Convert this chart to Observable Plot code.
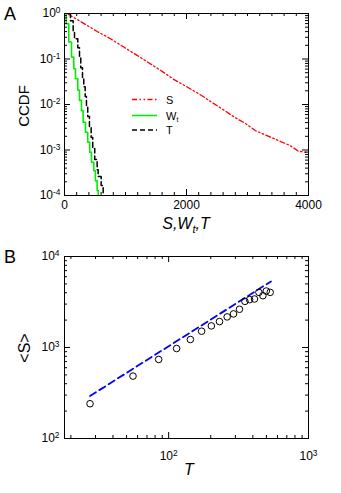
<!DOCTYPE html>
<html><head><meta charset="utf-8">
<script src="https://cdn.jsdelivr.net/npm/d3@7"></script>
<script src="https://cdn.jsdelivr.net/npm/@observablehq/plot@0.6"></script>
<style>
html,body{margin:0;padding:0;background:#fff;}
#wrap{position:relative;width:341px;height:493px;overflow:hidden;font-family:"Liberation Sans",Arial,Helvetica,sans-serif;}
#pa{position:absolute;left:0;top:0;}
#pb{position:absolute;left:0;top:245px;}
#ov{position:absolute;left:0;top:0;pointer-events:none;}
</style></head><body>
<div id="wrap"><div id="pa"></div><div id="pb"></div>
<svg id="ov" width="341" height="493" font-family="Liberation Sans, Arial, Helvetica, sans-serif">
 <text x="4" y="20" font-size="18">A</text>
 <text x="4" y="263" font-size="18">B</text>
 <text transform="translate(23,106) rotate(-90)" text-anchor="middle" dominant-baseline="central" font-size="15">CCDF</text>
 <text transform="translate(24,348) rotate(-90)" text-anchor="middle" dominant-baseline="central" font-size="16">&lt;S&gt;</text>
 <text x="186" y="229" text-anchor="middle" font-size="16" font-style="italic">S,W<tspan font-size="11" dy="4">t</tspan><tspan dy="-4">,T</tspan></text>
 <text x="189" y="475" text-anchor="middle" font-size="16" font-style="italic">T</text>
 <g id="legend" font-size="11">
  <line x1="132" x2="157" y1="99.5" y2="99.5" stroke="#ff0000" stroke-width="1.3" stroke-dasharray="5,2.5,1.5,2.5,1.5,2.5"/>
  <text x="166" y="99.5" dominant-baseline="central">S</text>
  <line x1="132" x2="157" y1="115.5" y2="115.5" stroke="#00ee00" stroke-width="1.6"/>
  <text x="166" y="115.5" dominant-baseline="central">W<tspan font-size="7" dy="3">t</tspan></text>
  <line x1="132" x2="157" y1="130" y2="130" stroke="#000" stroke-width="1.5" stroke-dasharray="5,3"/>
  <text x="166" y="130" dominant-baseline="central">T</text>
 </g>
</svg></div>
<script>
// ---- Panel A data (CCDF) ----
const sValues = [54, 262, 535, 753, 971, 1190, 1380, 1600, 1790, 2009, 2227, 2418, 2608, 2772, 2963, 3127, 3319, 3508, 3700, 3836, 3962];
const sCcdf   = [0.98, 0.667, 0.403, 0.279, 0.183, 0.120, 0.0828, 0.0535, 0.0356, 0.0243, 0.0164, 0.0111, 0.0076, 0.0054, 0.00386, 0.00267, 0.00207, 0.00161, 0.00125, 0.00094, 0.00089];
const wValues = [0, 28, 70, 115, 152, 180, 218, 246, 278, 306, 344, 381, 414, 442, 480, 507, 535, 552];
const wCcdf   = [1, 0.594, 0.236, 0.110, 0.0612, 0.0369, 0.0205, 0.0123, 0.00733, 0.00406, 0.00245, 0.00148, 0.00089, 0.00054, 0.00035, 0.00021, 0.000129, 0.00008];
const tValues = [80, 98, 142, 164, 218, 246, 267, 295, 316, 339, 360, 381, 409, 437, 463, 496, 535, 552, 601, 634];
const tCcdf   = [1, 0.69, 0.417, 0.279, 0.177, 0.107, 0.0644, 0.0388, 0.0246, 0.0149, 0.00897, 0.00542, 0.00327, 0.00188, 0.00108, 0.00062, 0.00037, 0.00026, 0.000166, 0.00008];

// ---- Panel B data ----
const bT = [27.4, 55.6, 84.8, 114, 143, 172, 202, 231, 262, 291, 321, 351, 379, 411, 442, 472, 499, 532];
const bS = [241, 485, 739, 975, 1224, 1510, 1727, 1927, 2168, 2340, 2632, 3213, 3356, 3412, 4037, 3707, 4172, 4037];
const fitT = [27.4, 539];
const fitS = [293, 5320];

// ---- tick labels ----
const xTicksA = [0, 2000, 4000];
const yTicksA = [1e-4, 1e-3, 1e-2, 1e-1, 1];
const xTicksB = [100, 1000];
const yTicksB = [100, 1000, 10000];

const xMinorA = d3.range(0, 4001, 200);
function logMinor(e0, e1, lo = 0) {
  const out = [];
  for (let e = e0; e < e1; e++) for (let k = 2; k <= 9; k++) { const v = k * Math.pow(10, e); if (v >= lo) out.push(v); }
  return out;
}
const yMinorA = logMinor(-4, 0);
const xMinorB = logMinor(1, 3, 18);
const yMinorB = logMinor(2, 4);

const pow10 = d => "10^" + Math.round(Math.log10(d));
const FONT = "Liberation Sans, Arial, Helvetica, sans-serif";

function frameTicks(xMaj, xMin, yMaj, yMin, fw, fh) {
  const m = [];
  for (const [vals, len] of [[xMaj, 6], [xMin, 3]]) {
    m.push(Plot.tickX(vals, {x: d => d, insetTop: fh - len, stroke: "black"}));
    m.push(Plot.tickX(vals, {x: d => d, insetBottom: fh - len, stroke: "black"}));
  }
  for (const [vals, len] of [[yMaj, 6], [yMin, 3]]) {
    m.push(Plot.tickY(vals, {y: d => d, insetRight: fw - len, stroke: "black"}));
    m.push(Plot.tickY(vals, {y: d => d, insetLeft: fw - len, stroke: "black"}));
  }
  return m;
}

const sData = sValues.map((x, i) => ({x, y: sCcdf[i]}));
const wData = wValues.map((x, i) => ({x, y: wCcdf[i]}));
const tData = tValues.map((x, i) => ({x, y: tCcdf[i]}));

const A = {w: 341, h: 245, ml: 64, mr: 33, mt: 13, mb: 50};
const plotA = Plot.plot({
  width: A.w, height: A.h, marginLeft: A.ml, marginRight: A.mr, marginTop: A.mt, marginBottom: A.mb,
  style: {fontFamily: FONT, fontSize: "12px", background: "white", color: "black"},
  x: {domain: [0, 4000]},
  y: {type: "log", domain: [1e-4, 1]},
  marks: [
    Plot.line(sData, {x: "x", y: "y", stroke: "#ff0000", strokeWidth: 1.3, strokeDasharray: "5,2.5,1.5,2.5,1.5,2.5", clip: true}),
    Plot.line(wData, {x: "x", y: "y", curve: "step-after", stroke: "#00ee00", strokeWidth: 1.6, clip: true}),
    Plot.line(tData, {x: "x", y: "y", curve: "step-after", stroke: "black", strokeWidth: 1.5, strokeDasharray: "5,3", clip: true}),
    ...frameTicks(xTicksA, xMinorA, yTicksA, yMinorA, A.w - A.ml - A.mr, A.h - A.mt - A.mb),
    Plot.frame({stroke: "black", strokeWidth: 1}),
    Plot.axisX(xTicksA, {anchor: "bottom", tickSize: 0, tickPadding: 5, label: null, tickFormat: d => String(d)}),
    Plot.axisY(yTicksA, {anchor: "left", tickSize: 0, tickPadding: 4, label: null, tickFormat: pow10})
  ]
});

const bData = bT.map((t, i) => ({t, s: bS[i]}));
const fitData = fitT.map((t, i) => ({t, s: fitS[i]}));
const B = {w: 341, h: 248, ml: 64, mr: 33, mt: 11, mb: 55};
const plotB = Plot.plot({
  width: B.w, height: B.h, marginLeft: B.ml, marginRight: B.mr, marginTop: B.mt, marginBottom: B.mb,
  style: {fontFamily: FONT, fontSize: "12px", background: "white", color: "black"},
  x: {type: "log", domain: [18, 1000]},
  y: {type: "log", domain: [100, 10000]},
  marks: [
    Plot.line(fitData, {x: "t", y: "s", stroke: "#0000ff", strokeWidth: 1.8, strokeDasharray: "7,4"}),
    Plot.dot(bData, {x: "t", y: "s", r: 3.3, stroke: "black", fill: "none", strokeWidth: 1}),
    ...frameTicks(xTicksB, xMinorB, yTicksB, yMinorB, B.w - B.ml - B.mr, B.h - B.mt - B.mb),
    Plot.frame({stroke: "black", strokeWidth: 1}),
    Plot.axisX(xTicksB, {anchor: "bottom", tickSize: 0, tickPadding: 13, label: null, tickFormat: pow10}),
    Plot.axisY(yTicksB, {anchor: "left", tickSize: 0, tickPadding: 5, label: null, tickFormat: pow10})
  ]
});

function fixSup(svg) {
  svg.querySelectorAll("text").forEach(t => {
    const m = /^10\^(-?\d+)$/.exec(t.textContent.trim());
    if (!m) return;
    t.textContent = "10";
    const ts = document.createElementNS("http://www.w3.org/2000/svg", "tspan");
    ts.setAttribute("dy", "-0.5em");
    ts.setAttribute("font-size", "0.7em");
    ts.textContent = m[1];
    t.appendChild(ts);
  });
}
fixSup(plotA); fixSup(plotB);
document.getElementById("pa").appendChild(plotA);
document.getElementById("pb").appendChild(plotB);
</script>
</body></html>
